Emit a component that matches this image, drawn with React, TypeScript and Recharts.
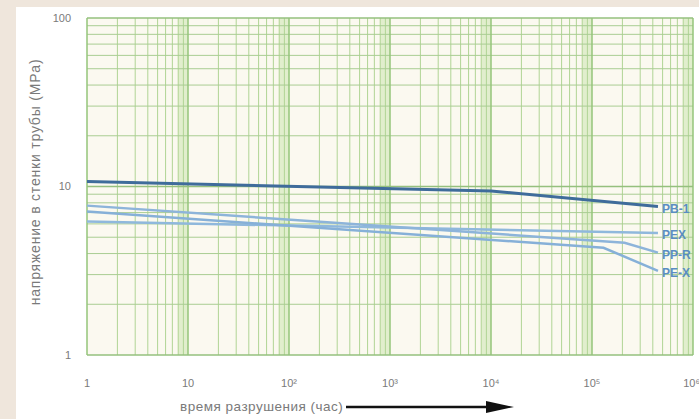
import React from "react";
import { LineChart, Line, XAxis, YAxis, ReferenceLine, ReferenceArea } from "recharts";

// время разрушения (час) vs напряжение (MPa), log-log
const pb1Hours = [1, 10000, 450000];
const pb1Stress = [10.7, 9.4, 7.6];

const pexHours = [1, 450000];
const pexStress = [6.2, 5.3];

const pprHours = [1, 210000, 450000];
const pprStress = [7.7, 4.64, 4.05];

const pexrHours = [1, 130000, 450000];
const pexrStress = [7.1, 4.33, 3.16];

const xTicks = [1, 10, 100, 1000, 10000, 100000, 1000000];
const xTickLabels = ["1", "10", "10²", "10³", "10⁴", "10⁵", "10⁶"];
const yTicks = [1, 10, 100];
const yTickLabels = ["1", "10", "100"];

const toRows = (hours: number[], stress: number[]) => hours.map((h, i) => ({ hours: h, stress: stress[i] }));

const series = [
  { name: "PB-1", rows: toRows(pb1Hours, pb1Stress), color: "#3f6c9b", width: 3 },
  { name: "PEX", rows: toRows(pexHours, pexStress), color: "#8fb8dc", width: 2.5 },
  { name: "PP-R", rows: toRows(pprHours, pprStress), color: "#8db4da", width: 2.5 },
  { name: "PE-X", rows: toRows(pexrHours, pexrStress), color: "#86b0d8", width: 2.5 },
];

// log grid: 2..9 inside each decade
const xDecades = [1, 10, 100, 1000, 10000, 100000];
const yDecades = [1, 10];
const minorSteps = [2, 3, 4, 5, 6, 7, 8, 9];

const endLabel = (name: string, last: number) => (props: any) => {
  if (props.index !== last) return null;
  return (
    <text x={props.x + 4} y={props.y + 6} fill="#5a8dc2" fontSize={12} fontWeight="bold" fontFamily="Liberation Sans, Arial, sans-serif">
      {name}
    </text>
  );
};

export default function App() {
  return (
    <div style={{ position: "absolute", left: 0, top: 0, width: 699, height: 419, background: "#efe6dc", overflow: "hidden", fontFamily: "Liberation Sans, Arial, sans-serif" }}>
      <div style={{ position: "absolute", left: 16, top: 7, right: 0, bottom: 0, background: "#ffffff" }} />

      <div style={{ position: "absolute", left: 0, top: 0 }}>
        <LineChart width={699} height={419} margin={{ top: 18, right: 6, bottom: 34, left: 27 }}>
          <XAxis
            dataKey="hours"
            type="number"
            scale="log"
            domain={[1, 1000000]}
            ticks={xTicks}
            tickFormatter={(v: number) => xTickLabels[xTicks.indexOf(v)] ?? ""}
            axisLine={false}
            tickLine={false}
            tickMargin={18}
            height={30}
            tick={{ fontSize: 11, fill: "#7a7a7a" }}
            allowDuplicatedCategory={false}
          />
          <YAxis
            type="number"
            scale="log"
            domain={[1, 100]}
            ticks={yTicks}
            tickFormatter={(v: number) => yTickLabels[yTicks.indexOf(v)] ?? ""}
            axisLine={false}
            tickLine={false}
            tickMargin={10}
            width={60}
            tick={{ fontSize: 11, fill: "#7a7a7a" }}
          />

          <ReferenceArea x1={1} x2={1000000} y1={1} y2={100} fill="#fbf9f0" fillOpacity={1} stroke="none" />

          {xDecades.map((d) => (
            <ReferenceArea key={"band" + d} x1={d * 8} x2={d * 10} y1={1} y2={100} fill="#d6eabd" fillOpacity={0.7} stroke="none" />
          ))}

          {xDecades.flatMap((d) =>
            minorSteps.map((m) => <ReferenceLine key={"vx" + d * m} x={d * m} stroke="#b0d494" strokeWidth={1} />)
          )}
          {yDecades.flatMap((d) =>
            minorSteps.map((m) => <ReferenceLine key={"hy" + d * m} y={d * m} stroke="#a9cd92" strokeWidth={1} />)
          )}
          {xTicks.map((t) => (
            <ReferenceLine key={"vd" + t} x={t} stroke="#95c47a" strokeWidth={1.5} />
          ))}
          {yTicks.map((t) => (
            <ReferenceLine key={"hd" + t} y={t} stroke="#95c07e" strokeWidth={1.5} />
          ))}

          {series.map((s) => (
            <Line
              key={s.name}
              data={s.rows}
              dataKey="stress"
              type="linear"
              stroke={s.color}
              strokeWidth={s.width}
              dot={false}
              activeDot={false}
              isAnimationActive={false}
              label={endLabel(s.name, s.rows.length - 1)}
            />
          ))}
        </LineChart>
      </div>

      <div
        style={{
          position: "absolute",
          left: 35,
          top: 182,
          transform: "translate(-50%, -50%) rotate(-90deg)",
          whiteSpace: "nowrap",
          fontSize: 14,
          letterSpacing: 0.8,
          color: "#7a7a7a",
        }}
      >
        напряжение в стенки трубы (MPa)
      </div>

      <div style={{ position: "absolute", left: 180, top: 399, display: "flex", alignItems: "center", fontSize: 13.5, letterSpacing: 0.5, color: "#7a7a7a", whiteSpace: "nowrap" }}>
        <span>время разрушения (час)</span>
        <svg width={170} height={14} style={{ marginLeft: 3 }}>
          <line x1={0} y1={7} x2={145} y2={7} stroke="#111" strokeWidth={2.5} />
          <polygon points="140,1 168,7 140,13" fill="#111" />
        </svg>
      </div>
    </div>
  );
}
